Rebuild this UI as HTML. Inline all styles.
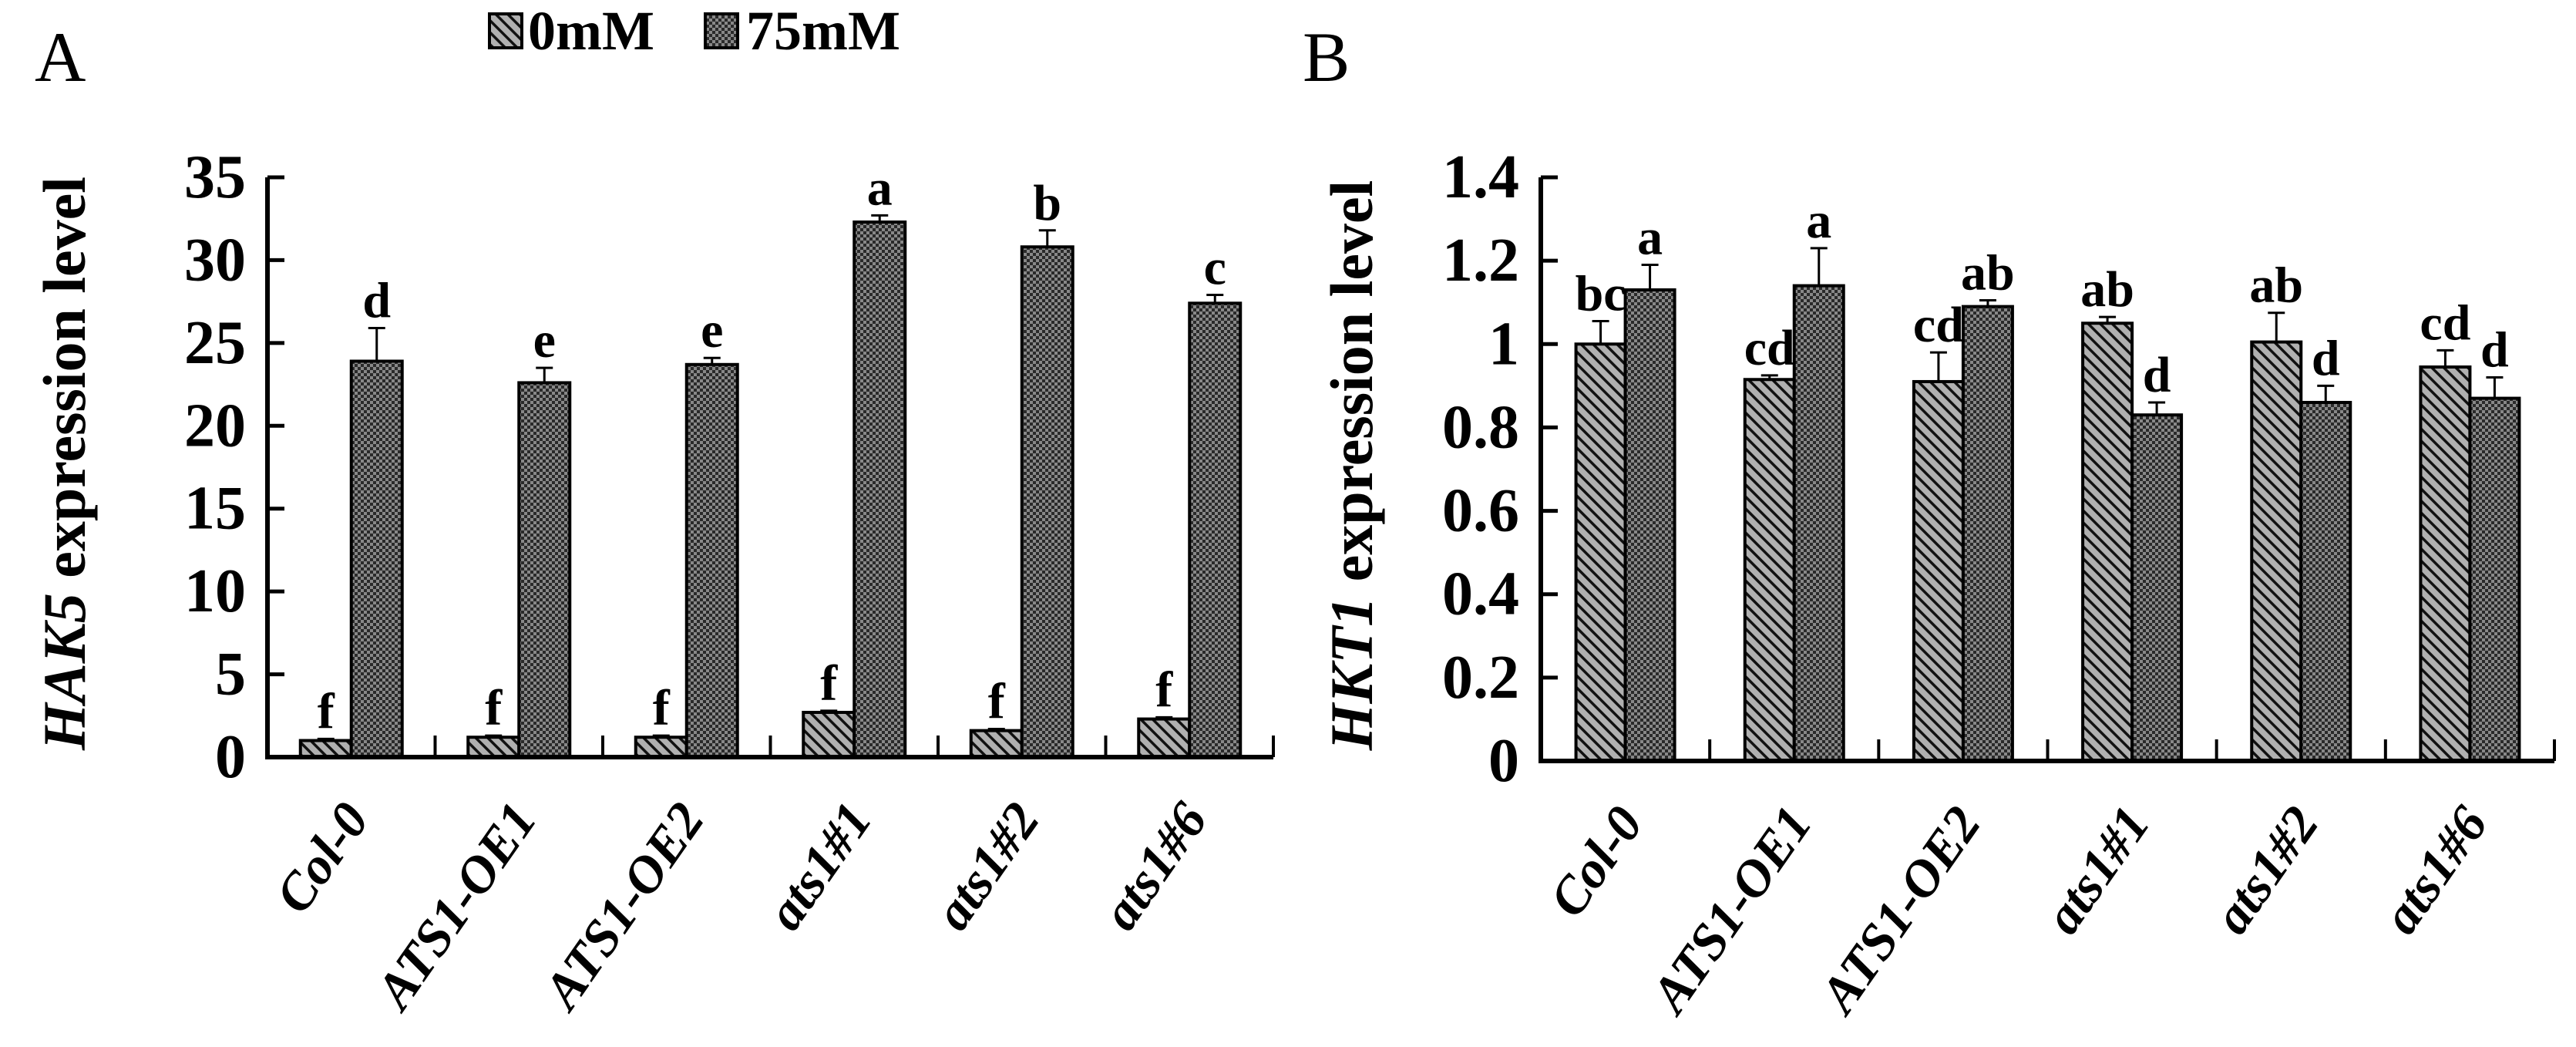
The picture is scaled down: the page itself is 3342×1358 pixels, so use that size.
<!DOCTYPE html>
<html><head><meta charset="utf-8">
<style>
html,body{margin:0;padding:0;background:#fff;}
svg{display:block;font-family:"Liberation Serif",serif;}
</style></head>
<body>
<svg id="fig" width="3342" height="1358" viewBox="0 0 3342 1358" xmlns="http://www.w3.org/2000/svg">
<defs>
<pattern id="stripe" width="11" height="11" patternUnits="userSpaceOnUse" patternTransform="rotate(-45)">
<rect width="11" height="11" fill="#b0b0b0"/>
<rect x="0" y="0" width="3.5" height="11" fill="#111"/>
</pattern>
<pattern id="check" width="8" height="8" patternUnits="userSpaceOnUse">
<rect width="8" height="8" fill="#2a2a2a"/>
<rect x="0" y="0" width="4" height="4" fill="#888"/>
<rect x="4" y="4" width="4" height="4" fill="#888"/>
</pattern>
</defs>
<text x="45" y="105" font-size="92">A</text>
<text x="1690" y="105" font-size="92">B</text>
<g>
<rect x="635" y="18" width="42" height="44" fill="url(#stripe)" stroke="#000" stroke-width="4"/>
<text x="685" y="64" font-size="72" font-weight="bold">0mM</text>
<rect x="915" y="18" width="42" height="44" fill="url(#check)" stroke="#000" stroke-width="4"/>
<text x="968" y="64" font-size="72" font-weight="bold">75mM</text>
</g>
<g id="chartA"></g>
<g id="chartB"></g>
</svg>
<script>
const categories = ["Col-0","ATS1-OE1","ATS1-OE2","ats1#1","ats1#2","ats1#6"];
const hak5_0mM = [1.0,1.2,1.2,2.7,1.6,2.3];
const hak5_0mM_err = [0.1,0.1,0.1,0.1,0.1,0.1];
const hak5_75mM = [23.9,22.6,23.7,32.3,30.8,27.4];
const hak5_75mM_err = [2.0,0.9,0.4,0.4,1.0,0.5];
const hak5_0mM_letters = ["f","f","f","f","f","f"];
const hak5_75mM_letters = ["d","e","e","a","b","c"];
const hak5_ticks = [0,5,10,15,20,25,30,35];
const hkt1_0mM = [1.0,0.915,0.91,1.05,1.005,0.945];
const hkt1_0mM_err = [0.055,0.01,0.07,0.015,0.07,0.04];
const hkt1_75mM = [1.13,1.14,1.09,0.83,0.86,0.87];
const hkt1_75mM_err = [0.06,0.09,0.015,0.03,0.04,0.05];
const hkt1_0mM_letters = ["bc","cd","cd","ab","ab","cd"];
const hkt1_75mM_letters = ["a","a","ab","d","d","d"];
const hkt1_ticks = [0,0.2,0.4,0.6,0.8,1,1.2,1.4];

const NS="http://www.w3.org/2000/svg";
function mk(parent,tag,attrs){const e=document.createElementNS(NS,tag);for(const k in attrs)e.setAttribute(k,attrs[k]);parent.appendChild(e);return e;}

function draw(gid,cfg){
  const g=document.getElementById(gid);
  const yScale=v=>cfg.y0-(v-cfg.min)/(cfg.max-cfg.min)*(cfg.y0-cfg.yTop);
  const gw=(cfg.xEnd-cfg.x0)/categories.length;
  const bw=cfg.bw;
  categories.forEach((c,i)=>{
    const cx=cfg.x0+gw*(i+0.5);
    const sets=[[cfg.s0,cfg.e0,cfg.l0,"url(#stripe)",cx-bw,"0mm"],[cfg.s1,cfg.e1,cfg.l1,"url(#check)",cx,"75mm"]];
    sets.forEach(([s,e,l,fill,x,nm])=>{
      const v=s[i],yv=yScale(v);
      const r=mk(g,"rect",{x:x,y:yv,width:bw,height:cfg.y0-yv,fill:fill,stroke:"#000","stroke-width":4});
      
      
      const ye=yScale(v+e[i]),xm=x+bw/2;
      const el=mk(g,"path",{d:`M${xm},${yv} V${ye} M${xm-11},${ye} H${xm+11}`,stroke:"#000","stroke-width":3,fill:"none"});
      
      
      const t=mk(g,"text",{x:xm,y:ye-14,"font-size":66,"font-weight":"bold","text-anchor":"middle"});
      t.textContent=l[i];
      
      
    });
    const lab=mk(g,"text",{transform:`translate(${cx+25},${cfg.y0+80}) rotate(-55)`,"font-size":68,"font-weight":"bold","font-style":"italic","text-anchor":"end"});
    lab.textContent=c;
    
    
    const tk=mk(g,"line",{x1:cfg.x0+gw*(i+1),x2:cfg.x0+gw*(i+1),y1:cfg.y0,y2:cfg.y0-28,stroke:"#000","stroke-width":4});
    
    
  });
  const ax=mk(g,"path",{d:`M${cfg.x0},${cfg.yTop} V${cfg.y0} H${cfg.xEnd}`,stroke:"#000","stroke-width":6,fill:"none"});
  
  
  cfg.ticks.forEach(v=>{
    const y=yScale(v);
    const l=mk(g,"line",{x1:cfg.x0,x2:cfg.x0+22,y1:y,y2:y,stroke:"#000","stroke-width":5});
    
    
    const t=mk(g,"text",{x:cfg.x0-28,y:y+26,"font-size":80,"font-weight":"bold","text-anchor":"end"});
    t.textContent=String(v);
    
    
  });
  const tt=mk(g,"text",{transform:`translate(${cfg.titleX},${(cfg.yTop+cfg.y0)/2-5}) rotate(-90)`,"font-size":78,"font-weight":"bold","text-anchor":"middle"});
  const ts=mk(tt,"tspan",{"font-style":"italic"});ts.textContent=cfg.gene;
  const ts2=mk(tt,"tspan",{});ts2.textContent=" expression level";
  
  
}
draw("chartA",{x0:347,xEnd:1652,yTop:230,y0:982,min:0,max:35,bw:66,ticks:hak5_ticks,s0:hak5_0mM,e0:hak5_0mM_err,l0:hak5_0mM_letters,s1:hak5_75mM,e1:hak5_75mM_err,l1:hak5_75mM_letters,gene:"HAK5",titleX:110});
draw("chartB",{x0:1999,xEnd:3314,yTop:230,y0:987,min:0,max:1.4,bw:64,ticks:hkt1_ticks,s0:hkt1_0mM,e0:hkt1_0mM_err,l0:hkt1_0mM_letters,s1:hkt1_75mM,e1:hkt1_75mM_err,l1:hkt1_75mM_letters,gene:"HKT1",titleX:1780});
</script>
</body></html>
